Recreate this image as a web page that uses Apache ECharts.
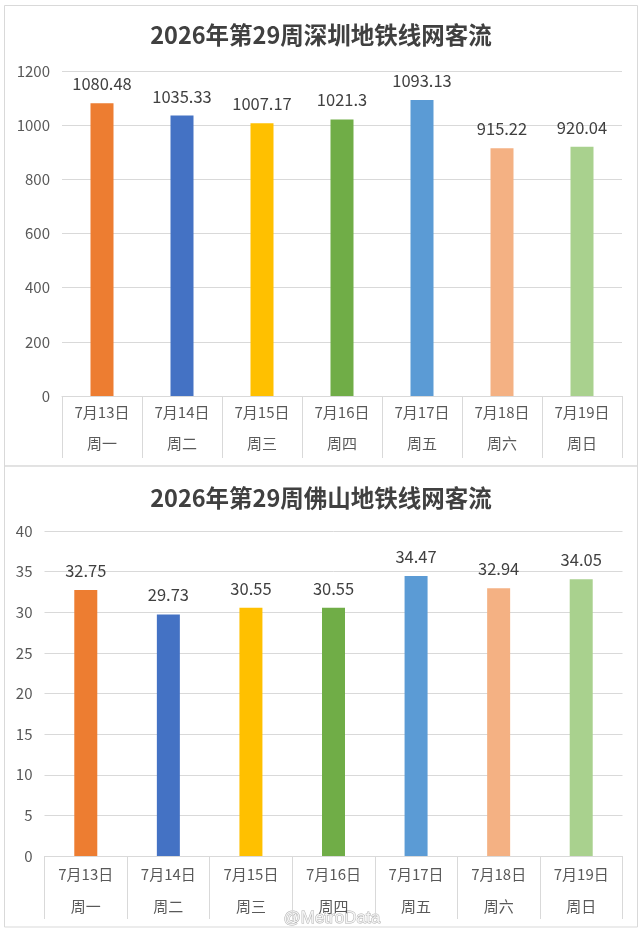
<!DOCTYPE html>
<html>
<head>
<meta charset="utf-8">
<style>
html, body { margin: 0; padding: 0; background: #fff; }
#chart { width: 642px; height: 933px; }
</style>
<script src="https://cdn.jsdelivr.net/npm/echarts@6/dist/echarts.min.js"></script>
</head>
<body>
<div id="chart"></div>
<script>
var dates = ['7月13日', '7月14日', '7月15日', '7月16日', '7月17日', '7月18日', '7月19日'];
var weekdays = ['周一', '周二', '周三', '周四', '周五', '周六', '周日'];
var szValues = [1080.48, 1035.33, 1007.17, 1021.3, 1093.13, 915.22, 920.04];
var fsValues = [32.75, 29.73, 30.55, 30.55, 34.47, 32.94, 34.05];
var barColors = ['#ED7D31', '#4472C4', '#FFC000', '#70AD47', '#5B9BD5', '#F4B183', '#A9D18E'];
var titles = ['2026年第29周深圳地铁线网客流', '2026年第29周佛山地铁线网客流'];

(function() {
    var myChart = echarts.init(document.getElementById('chart'));
    var font = '"Noto Sans CJK SC", "Noto Sans", sans-serif';
    var gridColor = '#D9D9D9';

    function makeData(vals) {
        return vals.map(function(v, i) {
            return { value: v, itemStyle: { color: barColors[i] } };
        });
    }

    function xAxis(idx, lh) {
        return {
            type: 'category',
            gridIndex: idx,
            data: dates.map(function(d, i) { return d + '\n' + weekdays[i]; }),
            axisLine: { lineStyle: { color: gridColor } },
            axisTick: { show: true, length: idx === 0 ? 62 : 63, lineStyle: { color: gridColor } },
            axisLabel: {
                color: '#595959', fontSize: 15, fontFamily: font,
                lineHeight: lh, margin: idx === 0 ? 1 : 2, interval: 0
            }
        };
    }

    function yAxis(idx, max, step) {
        return {
            type: 'value',
            gridIndex: idx,
            min: 0, max: max, interval: step,
            axisLine: { show: false },
            axisTick: { show: false },
            splitLine: { lineStyle: { color: gridColor } },
            axisLabel: {
                color: '#595959', fontSize: 15, fontFamily: font, margin: 12,
                formatter: function(v) { return String(v); }
            }
        };
    }

    function barSeries(idx, vals) {
        return {
            type: 'bar',
            xAxisIndex: idx,
            yAxisIndex: idx,
            barWidth: 23,
            data: makeData(vals),
            label: {
                show: true, position: 'top', distance: 11,
                color: '#404040', fontSize: 16.5, fontFamily: font
            }
        };
    }

    var option = {
        backgroundColor: '#fff',
        animation: false,
        title: [
            { text: titles[0], left: 'center', top: 18,
              textStyle: { fontSize: 23.5, fontWeight: 'bold', color: '#404040', fontFamily: font } },
            { text: titles[1], left: 'center', top: 481,
              textStyle: { fontSize: 23.5, fontWeight: 'bold', color: '#404040', fontFamily: font } }
        ],
        grid: [
            { left: 62, right: 20, top: 71, height: 325 },
            { left: 44.5, right: 19.5, top: 531, height: 325 }
        ],
        xAxis: [xAxis(0, 31), xAxis(1, 32)],
        yAxis: [yAxis(0, 1200, 200), yAxis(1, 40, 5)],
        series: [barSeries(0, szValues), barSeries(1, fsValues)],
        graphic: [
            { type: 'rect', silent: true, shape: { x: 4.5, y: 5.5, width: 633, height: 460.5 },
              style: { fill: 'none', stroke: gridColor, lineWidth: 1 } },
            { type: 'rect', silent: true, shape: { x: 4.5, y: 466, width: 633, height: 461 },
              style: { fill: 'none', stroke: gridColor, lineWidth: 1 } },
            { type: 'text', silent: true, left: 283, top: 909,
              style: { text: '@MetroData', fontSize: 17, fontFamily: 'Liberation Sans, sans-serif',
                       fill: '#f4f4f4', stroke: '#b0b0b0', lineWidth: 1 } }
        ]
    };
    myChart.setOption(option);
})();
</script>
</body>
</html>
